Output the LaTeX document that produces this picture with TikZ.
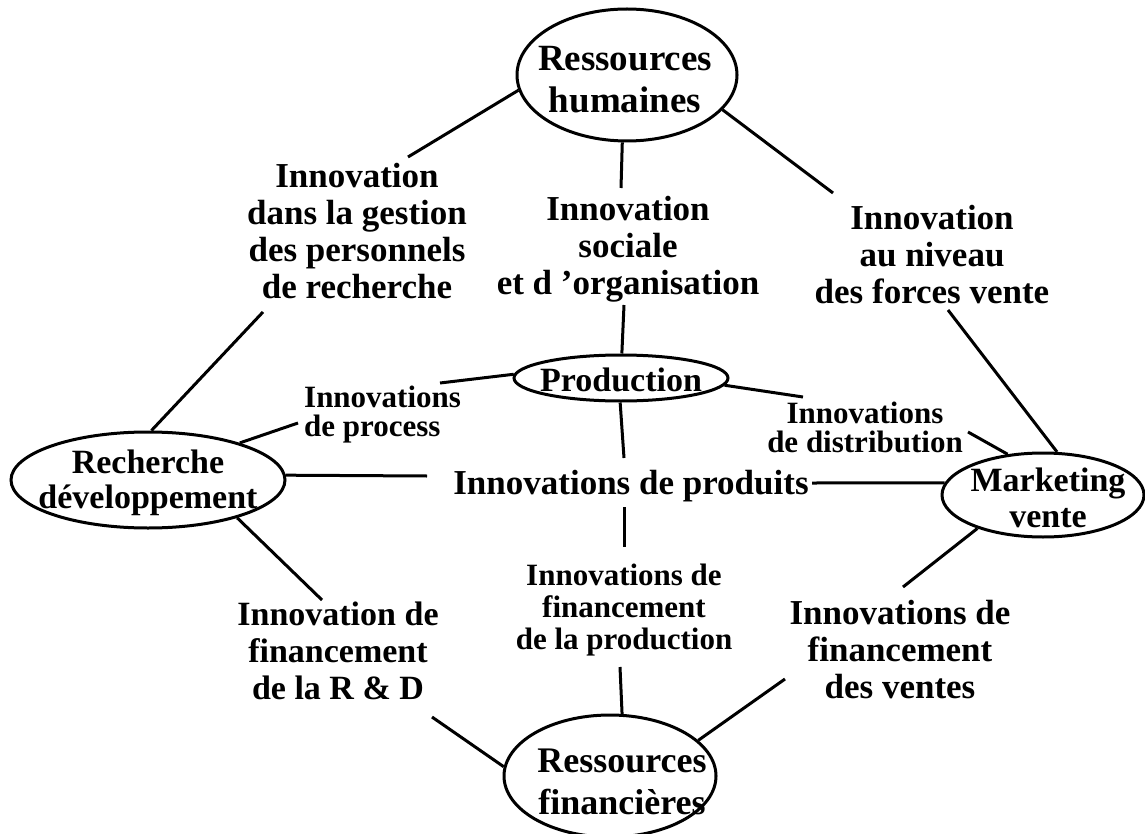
\documentclass[tikz,border=0pt]{standalone}
\usepackage{fontspec}
\setmainfont{Liberation Serif}
\usetikzlibrary{shapes.geometric}
\begin{document}
\begin{tikzpicture}[x=1pt,y=-1pt,
  ell/.style={draw, ellipse, line width=3pt, inner sep=0pt},
  big/.style={font=\fontsize{35}{37}\selectfont\bfseries, align=center, inner sep=0pt},
  small/.style={font=\fontsize{31}{29}\selectfont\bfseries, align=center, inner sep=0pt},
  conn/.style={line width=3pt}]
\useasboundingbox (0,0) rectangle (1145,834);

% ellipses
\node[ell, minimum width=220pt, minimum height=132pt] (RH) at (627,75) {};
\node[ell, minimum width=214pt, minimum height=46pt] (P) at (621,378) {};
\node[ell, minimum width=274pt, minimum height=96pt] (RD) at (148,480) {};
\node[ell, minimum width=202pt, minimum height=84pt] (MV) at (1043,495) {};
\node[ell, minimum width=212pt, minimum height=122pt] (RF) at (610,776) {};

% ellipse texts
\node[big, font=\fontsize{37}{42}\selectfont\bfseries] (RHt) at (625,80) {Ressources\\humaines};
\node[big, font=\fontsize{34}{34}\selectfont\bfseries] (Pt) at (621,380) {Production};
\node[big, font=\fontsize{34}{35}\selectfont\bfseries] (RDt) at (148,483) {Recherche\\développement};
\node[big, font=\fontsize{34}{36}\selectfont\bfseries] (MVt) at (1048,498) {Marketing\\vente};
\node[big, font=\fontsize{36}{42}\selectfont\bfseries] (RFt) at (622,782) {Ressources\\financières};

% labels
\node[big] (gestion) at (357,231) {Innovation\\dans la gestion\\des personnels\\de recherche};
\node[big] (sociale) at (628,249) {Innovation\\sociale\\et d 'organisation};
\node[big] (niveau) at (932,255) {Innovation\\au niveau\\des forces vente};
\node[small, align=left, anchor=west] (process) at (304,415) {Innovations\\de process};
\node[small] (distribution) at (865,427) {Innovations\\de distribution};
\node[big] (produits) at (631,486) {Innovations de produits};
\node[small, font=\fontsize{31}{32}\selectfont\bfseries] (finprod) at (624,610) {Innovations de\\financement\\de la production};
\node[big, font=\fontsize{34}{37}\selectfont\bfseries] (finRD) at (338,651) {Innovation de\\financement\\de la R \& D};
\node[big] (finventes) at (900,650) {Innovations de\\financement\\des ventes};

% label-side ends of connectors
\coordinate (c1) at (408,157);
\coordinate (c2) at (621,188);
\coordinate (c3) at (833,193);
\coordinate (c4) at (263,312);
\coordinate (c5) at (624,305);
\coordinate (c6) at (948,310);
\coordinate (c7) at (440,383);
\coordinate (c8) at (298,423);
\coordinate (c9) at (803,397);
\coordinate (c10) at (968,432);
\coordinate (c11) at (624,458);
\coordinate (c12) at (427,476);
\coordinate (c13) at (812,483);
\coordinate (c14a) at (624,507);
\coordinate (c14b) at (624,547);
\coordinate (c15) at (322,600);
\coordinate (c16) at (432,717);
\coordinate (c17) at (620,667);
\coordinate (c18) at (785,679);
\coordinate (c19) at (903,587);

% connectors
\draw[conn] (RH.188) -- (c1);
\draw[conn] (RH.266) -- (c2);
\draw[conn] (RH.340) -- (c3);
\draw[conn] (RD.86) -- (c4);
\draw[conn] (c5) -- (P.88);
\draw[conn] (c6) -- (MV.72);
\draw[conn] (P.178) -- (c7);
\draw[conn] (RD.22) -- (c8);
\draw[conn] (P.356) -- (c9);
\draw[conn] (c10) -- (MV.131);
\draw[conn] (P.268) -- (c11);
\draw[conn] (RD.2) -- (c12);
\draw[conn] (c13) -- (MV.173);
\draw[conn] (c14a) -- (c14b);
\draw[conn] (RD.337) -- (c15);
\draw[conn] (c16) -- (RF.175);
\draw[conn] (c17) -- (RF.79);
\draw[conn] (RF.22) -- (c18);
\draw[conn] (MV.207) -- (c19);
\end{tikzpicture}
\end{document}
